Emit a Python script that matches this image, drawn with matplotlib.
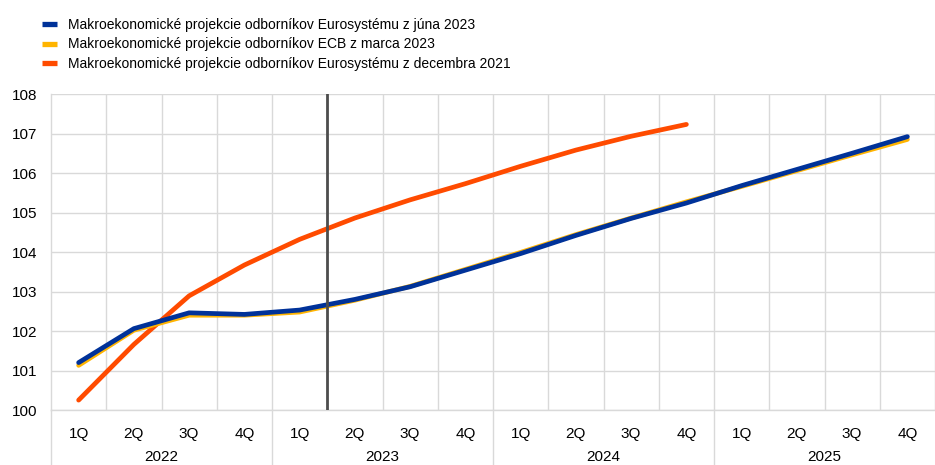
import matplotlib
matplotlib.use("Agg")
import matplotlib.pyplot as plt
from matplotlib.lines import Line2D
from matplotlib.transforms import blended_transform_factory

plt.rcParams['font.family'] = ['Liberation Sans', 'DejaVu Sans']

quarters = ['1Q', '2Q', '3Q', '4Q'] * 4
years = ['2022', '2023', '2024', '2025']

june_2023 = [101.20, 102.06, 102.46, 102.42, 102.53, 102.80, 103.12, 103.54,
             103.96, 104.42, 104.85, 105.24, 105.68, 106.09, 106.50, 106.92]
march_2023 = [101.13, 102.02, 102.40, 102.40, 102.48, 102.78, 103.13, 103.56,
              103.99, 104.44, 104.86, 105.27, 105.66, 106.06, 106.46, 106.85]
dec_2021 = [100.25, 101.66, 102.89, 103.67, 104.32, 104.86, 105.32, 105.73,
            106.17, 106.58, 106.93, 107.23]

labels = ['Makroekonomické projekcie odborníkov Eurosystému z júna 2023',
          'Makroekonomické projekcie odborníkov ECB z marca 2023',
          'Makroekonomické projekcie odborníkov Eurosystému z decembra 2021']
colors = ['#003299', '#ffb400', '#ff4b00']

W, H = 935, 465
fig = plt.figure(figsize=(W / 100, H / 100), dpi=100)
ax = fig.add_axes([51 / W, (H - 410) / H, (W - 51) / W, (410 - 94) / H])

x = list(range(len(june_2023)))
ax.plot(x[:len(dec_2021)], dec_2021, color=colors[2], lw=3.4, solid_capstyle='round', zorder=3)
ax.plot(x, march_2023, color=colors[1], lw=3.4, solid_capstyle='round', zorder=4)
ax.plot(x, june_2023, color=colors[0], lw=3.4, solid_capstyle='round', zorder=5)

ax.axvline(4.5, color='#4d4d4d', lw=2, zorder=6)

ax.set_ylim(100, 108)
ax.set_xlim(-0.5, -0.5 + (W - 51) / 55.93)
ax.set_yticks(range(100, 109))
ax.set_xticks(x)
ax.set_xticklabels(quarters)
ax.set_xticks([i + 0.5 for i in x], minor=True)
ax.grid(True, which='major', axis='y', color='#d9d9d9', lw=1)
ax.grid(True, which='minor', axis='x', color='#d9d9d9', lw=1)
ax.tick_params(axis='both', which='both', length=0, labelsize=11, colors='#000000')
ax.tick_params(axis='x', pad=12)
ax.tick_params(axis='y', pad=10)
for s in ['top', 'right']:
    ax.spines[s].set_visible(False)
for s in ['left', 'bottom']:
    ax.spines[s].set_color('#d9d9d9')
    ax.spines[s].set_linewidth(1)
ax.set_axisbelow(True)

# year separators and labels under the axis
tr = blended_transform_factory(ax.transData, ax.transAxes)
for b in [-0.5, 3.5, 7.5, 11.5]:
    ax.plot([b, b], [0, -0.18], color='#d9d9d9', lw=1, transform=tr, clip_on=False)
for i, yr in enumerate(years):
    ax.text(i * 4 + 1.5, -0.148, yr, transform=tr, ha='center', va='center', fontsize=11)

handles = [Line2D([], [], color=c, lw=3.8, solid_capstyle='butt') for c in colors]
fig.legend(handles, labels, loc='upper left', bbox_to_anchor=(36 / W, 1 - 12 / H),
           frameon=False, fontsize=10, handlelength=1.1, handletextpad=0.8,
           labelspacing=0.42, borderaxespad=0)

fig.savefig('out.png', dpi=100)
